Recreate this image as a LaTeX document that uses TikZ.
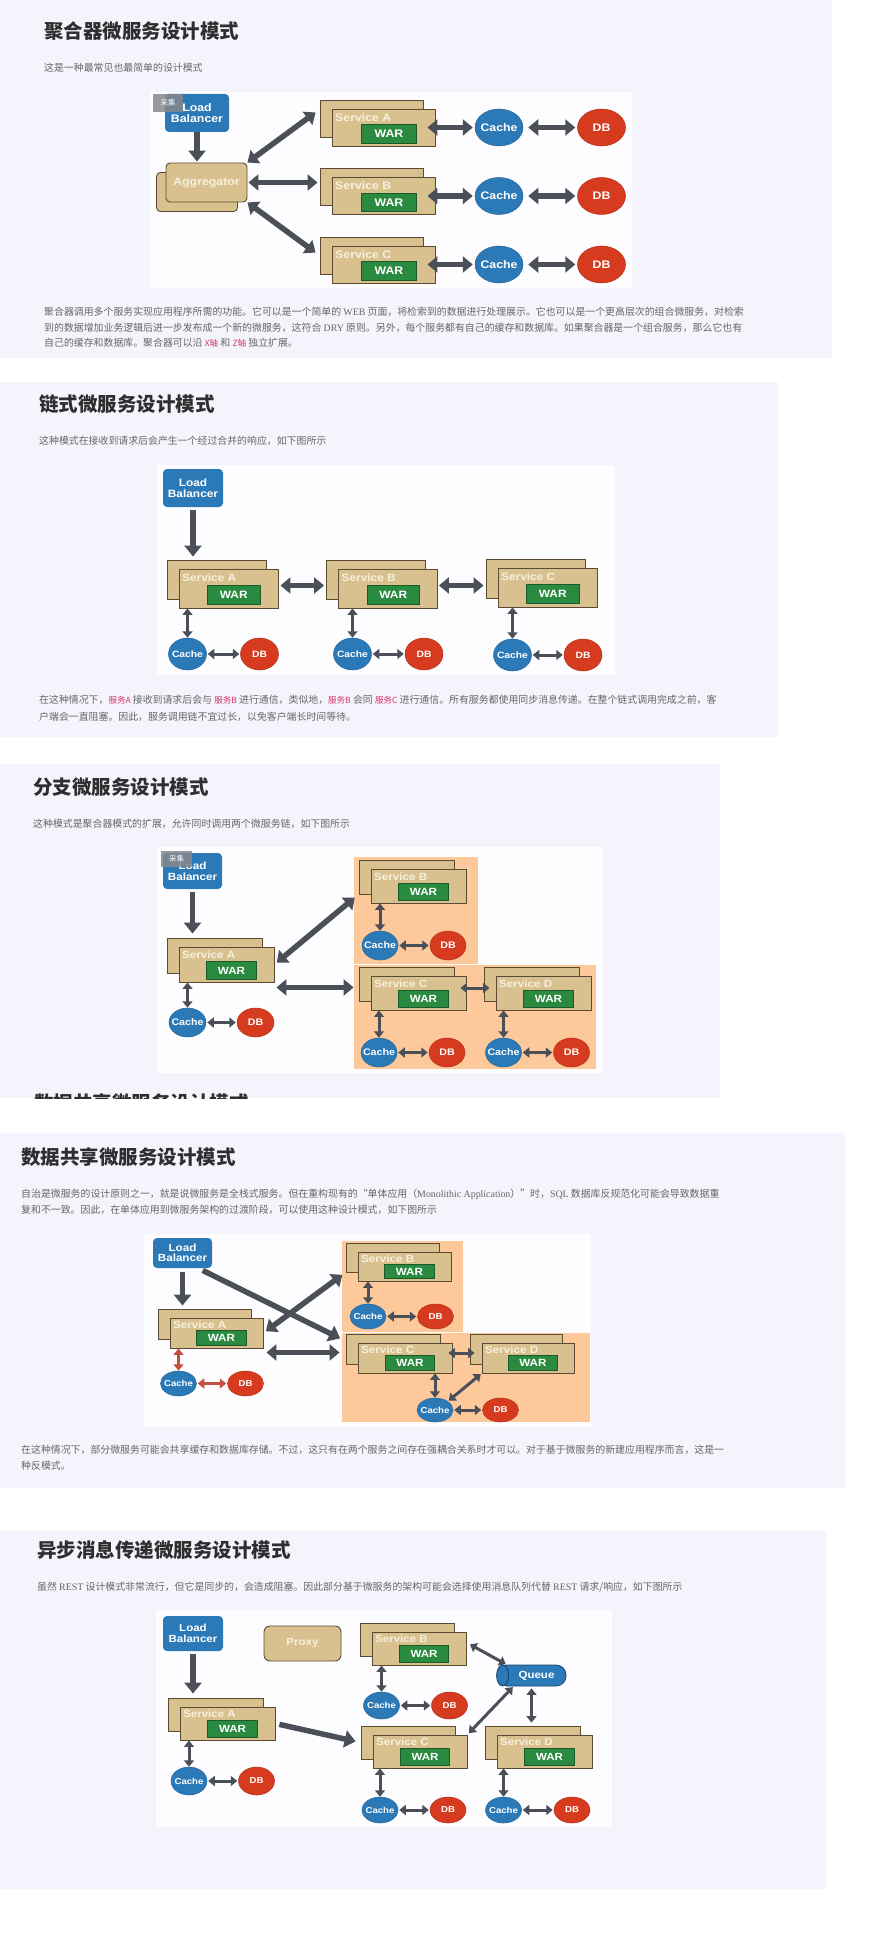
\documentclass[tikz,border=0pt]{standalone}
\usepackage{fontspec}
\usetikzlibrary{arrows.meta,shapes.geometric}

\newfontfamily\cjk{Noto Sans CJK SC}
\newfontfamily\dfont{Liberation Sans}[FakeStretch=1.12]
\newfontfamily\latw{Liberation Serif}

\definecolor{panelbg}{HTML}{F4F4FD}
\definecolor{figbg}{HTML}{FDFDFF}
\definecolor{lbblue}{HTML}{2B79B7}
\definecolor{dbred}{HTML}{D63A1F}
\definecolor{svctan}{HTML}{D8C18F}
\definecolor{svcline}{HTML}{5B4B33}
\definecolor{svctext}{HTML}{F6F0DF}
\definecolor{wargreen}{HTML}{2A8A40}
\definecolor{warline}{HTML}{1D5A2B}
\definecolor{arrgray}{HTML}{4B4F58}
\definecolor{arrred}{HTML}{C4503F}
\definecolor{zoneorange}{HTML}{FDC99B}
\definecolor{titlegray}{HTML}{2E2E2E}
\definecolor{textgray}{HTML}{666666}
\definecolor{codered}{HTML}{D6336C}
\definecolor{taggray}{HTML}{85878C}

\newcommand{\en}[1]{{\latw #1}}
\newcommand{\code}[1]{{\fontsize{8.5}{9}\selectfont\color{codered}#1}}

% service stack: #1 name, #2 x, #3 y (front box centre), #4 width, #5 height, #6 label
\newcommand{\svcstack}[6]{%
  \node[svcbox, minimum width=#4, minimum height=#5] (#1-b) at ({#2-12},{#3-9}) {};
  \node[svcbox, minimum width=#4, minimum height=#5] (#1) at (#2,#3) {};
  \node[svclabel, anchor=west] (#1-l) at ({#2-0.5*#4+3},{#3-0.28*#5}) {#6};
  \node[warbox, minimum width={0.53*#4}, minimum height={0.5*#5}] (#1-w) at ({#2+0.053*#4},{#3+0.17*#5}) {WAR};
}
% cache and db pair: #1 suffix, #2 x, #3 y, #4 gap, #5 width, #6 height
\newcommand{\store}[6]{%
  \node[cachenode, minimum width=#5, minimum height=#6] (c#1) at (#2,#3) {Cache};
  \node[dbnode, minimum width=#5, minimum height=#6] (d#1) at ({#2+#4},#3) {DB};
}

\def\bsz{11}\def\lsz{11.5}\def\ssz{11}

\tikzset{
  titletext/.style={anchor=west, inner sep=0pt, text=titlegray,
    font=\cjk\bfseries\fontsize{19.5}{22}\selectfont},
  bodytext/.style={anchor=west, inner sep=0pt, text=textgray,
    font=\cjk\fontsize{9.9}{12}\selectfont},
  lbbox/.style={fill=lbblue, rounded corners=4pt, inner sep=0pt, text=white,
    align=center, font=\dfont\bfseries\fontsize{\bsz}{\lsz}\selectfont},
  svcbox/.style={draw=svcline, line width=0.9pt, fill=svctan, inner sep=0pt},
  svclabel/.style={inner sep=0pt, text=svctext,
    font=\dfont\bfseries\fontsize{\bsz}{\lsz}\selectfont},
  warbox/.style={draw=warline, line width=0.8pt, fill=wargreen, inner sep=0pt,
    text=white, font=\dfont\bfseries\fontsize{\bsz}{\lsz}\selectfont},
  aggbox/.style={svcbox, rounded corners=4pt, minimum width=81, minimum height=39,
    text=svctext, font=\dfont\bfseries\fontsize{\bsz}{\lsz}\selectfont},
  cachenode/.style={ellipse, fill=lbblue, draw=lbblue!85!black, line width=0.5pt,
    inner xsep=-7pt, inner ysep=-2pt, text=white,
    font=\dfont\bfseries\fontsize{\ssz}{\ssz}\selectfont},
  dbnode/.style={cachenode, fill=dbred, draw=dbred!85!black},
  tagbox/.style={fill=taggray, fill opacity=0.85, text opacity=1, text=white,
    inner sep=0pt, font=\cjk\fontsize{7.5}{8}\selectfont},
  queuebox/.style={fill=lbblue, draw=lbblue!55!black, line width=0.8pt,
    rounded corners=10pt, inner sep=0pt, text=white,
    font=\dfont\bfseries\fontsize{\bsz}{\lsz}\selectfont},
  queuecap/.style={fill=lbblue, draw=lbblue!55!black, line width=0.8pt},
  fatarr/.style={draw=arrgray, line width=5.5pt,
    {Triangle[length=10pt,width=16pt]}-{Triangle[length=10pt,width=16pt]}},
  fatone/.style={draw=arrgray, line width=5.5pt, -{Triangle[length=11pt,width=17pt]}},
  thinarr/.style={draw=arrgray, line width=3pt,
    {Triangle[length=6.5pt,width=10pt]}-{Triangle[length=6.5pt,width=10pt]}},
  redarr/.style={thinarr, draw=arrred},
}

\begin{document}
\begin{tikzpicture}[x=1pt, y=-1pt]
  \useasboundingbox (0,0) rectangle (889,1934);
  \fill[white] (0,0) rectangle (889,1934);

  %% aggregator pattern
  \fill[panelbg] (0,0) rectangle (832,358);
  \node[titletext] (t1) at (44,31) {聚合器微服务设计模式};
  \node[bodytext] (s1) at (44,68) {这是一种最常见也最简单的设计模式};
  \fill[figbg] (150,92) rectangle (632,288);
  \begin{scope}
    \def\bsz{11}\def\lsz{11.5}\def\ssz{11}
    \node[lbbox, minimum width=64, minimum height=38] (lb1) at (197,113) {Load\\Balancer};
    \node[tagbox, minimum width=30, minimum height=18] (tag1) at (168,103) {采集};
    \node[aggbox] (agg-b) at (197,192) {};
    \node[aggbox] (agg) at (206.5,182.5) {Aggregator};
    \svcstack{sa1}{383.5}{127.5}{103}{37}{Service A}
    \svcstack{sb1}{383.5}{196}{103}{37}{Service B}
    \svcstack{sc1}{383.5}{264.5}{103}{37}{Service C}
    \store{a1}{499}{127.5}{102.5}{48}{37}
    \store{b1}{499}{196}{102.5}{48}{37}
    \store{c1}{499}{264.5}{102.5}{48}{37}

    \draw[fatone, shorten >=1pt] (lb1.south) -- (lb1.south |- agg.north); %% lb -> aggregator
    \draw[fatarr, shorten >=5pt] (agg.north east) -- ([yshift=9pt]sa1-b.west);
    \draw[fatarr, shorten <=1pt, shorten >=2pt] (agg.east) -- (agg.east -| sb1-b.west);
    \draw[fatarr, shorten >=5pt] (agg.south east) -- (sc1-b.west);
    \draw[fatarr, shorten <=-8pt, shorten >=2pt] (sa1.east) -- (ca1.west);
    \draw[fatarr, shorten <=-8pt, shorten >=2pt] (sb1.east) -- (cb1.west);
    \draw[fatarr, shorten <=-8pt, shorten >=2pt] (sc1.east) -- (cc1.west);
    \draw[fatarr, shorten <=5pt, shorten >=2pt] (ca1.east) -- (da1.west);
    \draw[fatarr, shorten <=5pt, shorten >=2pt] (cb1.east) -- (db1.west);
    \draw[fatarr, shorten <=5pt, shorten >=2pt] (cc1.east) -- (dc1.west);
  \end{scope}
  \node[bodytext] (p1a) at (44,312) {聚合器调用多个服务实现应用程序所需的功能。它可以是一个简单的 \en{WEB} 页面，将检索到的数据进行处理展示。它也可以是一个更高层次的组合微服务，对检索};
  \node[bodytext] (p1b) at (44,328) {到的数据增加业务逻辑后进一步发布成一个新的微服务，这符合 \en{DRY} 原则。另外，每个服务都有自己的缓存和数据库。如果聚合器是一个组合服务，那么它也有};
  \node[bodytext] (p1c) at (44,343) {自己的缓存和数据库。聚合器可以沿 \code{X轴} 和 \code{Z轴} 独立扩展。};

  %% chained pattern
  \fill[panelbg] (0,382) rectangle (778,737);
  \node[titletext] (t2) at (39,404) {链式微服务设计模式};
  \node[bodytext] (s2) at (39,441) {这种模式在接收到请求后会产生一个经过合并的响应，如下图所示};
  \fill[figbg] (157,465) rectangle (615,675);
  \begin{scope}
    \def\bsz{10.6}\def\lsz{11.5}\def\ssz{9.2}
    \node[lbbox, minimum width=60, minimum height=38] (lb2) at (193,488) {Load\\Balancer};
    \svcstack{sa2}{228.5}{588.5}{99}{39}{Service A}
    \svcstack{sb2}{388}{588.5}{99}{39}{Service B}
    \svcstack{sc2}{547.5}{587.5}{99}{39}{Service C}
    \store{a2}{187.5}{654}{72}{38}{32}
    \store{b2}{352.5}{654}{71.5}{38}{32}
    \store{c2}{512.5}{655}{70.5}{38}{32}

    \draw[fatone, shorten <=3pt, shorten >=3pt] (lb2.south) -- (lb2.south |- sa2-b.north);
    \draw[fatarr, shorten <=2pt, shorten >=2pt] ([yshift=3pt]sa2.east) -- ([yshift=3pt]sa2.east -| sb2-b.west);
    \draw[fatarr, shorten <=1pt, shorten >=2pt] ([yshift=3pt]sb2.east) -- ([yshift=3pt]sb2.east -| sc2-b.west);
    \draw[thinarr] (ca2.north) -- (ca2.north |- sa2.south);
    \draw[thinarr] (cb2.north) -- (cb2.north |- sb2.south);
    \draw[thinarr] (cc2.north) -- (cc2.north |- sc2.south);
    \draw[thinarr, shorten <=1pt, shorten >=1pt] (ca2.east) -- (da2.west);
    \draw[thinarr, shorten <=1pt, shorten >=1pt] (cb2.east) -- (db2.west);
    \draw[thinarr, shorten <=1pt, shorten >=1pt] (cc2.east) -- (dc2.west);
  \end{scope}
  \node[bodytext] (p2a) at (39,700) {在这种情况下，\code{服务A} 接收到请求后会与 \code{服务B} 进行通信，类似地，\code{服务B} 会同 \code{服务C} 进行通信。所有服务都使用同步消息传递。在整个链式调用完成之前，客};
  \node[bodytext] (p2b) at (39,717) {户端会一直阻塞。因此，服务调用链不宜过长，以免客户端长时间等待。};

  %% branch pattern
  \fill[panelbg] (0,764) rectangle (720,1098);
  \node[titletext] (t3) at (33,787) {分支微服务设计模式};
  \node[bodytext] (s3) at (33,824) {这种模式是聚合器模式的扩展，允许同时调用两个微服务链，如下图所示};
  \fill[figbg] (157,847) rectangle (603,1073);
  \fill[zoneorange] (354,857) rectangle (478,963.5);
  \fill[zoneorange] (354,964.5) rectangle (596,1069);
  \begin{scope}
    \def\bsz{10.4}\def\lsz{11}\def\ssz{9.5}
    \node[lbbox, minimum width=59, minimum height=36] (lb3) at (192.5,871) {Load\\Balancer};
    \node[tagbox, minimum width=31, minimum height=16] (tag3) at (176.5,859) {采集};
    \svcstack{sa3}{226.5}{964.5}{95}{35}{Service A}
    \svcstack{sb3}{418.5}{886}{95}{34}{Service B}
    \svcstack{sc3}{418.5}{993}{95}{34}{Service C}
    \svcstack{sd3}{543.5}{993}{95}{34}{Service D}
    \store{a3}{187.5}{1022.5}{68}{37}{29}
    \store{b3}{380}{945.5}{68}{36}{29}
    \store{c3}{379}{1052.5}{68}{36}{29}
    \store{d3}{503.5}{1052.5}{68}{36}{29}

    \draw[fatone, shorten <=3pt, shorten >=4pt] (lb3.south) -- (lb3.south |- sa3-b.north);
    \draw[fatarr, shorten <=3pt, shorten >=5pt] (sa3.east) -- (sb3-b.south west); %% A <-> B
    \draw[fatarr, shorten <=2pt, shorten >=5pt] ([yshift=-5pt]sa3.south east) -- ([yshift=-5pt]sa3.south east -| sc3-b.west); %% A <-> C
    \draw[thinarr, shorten <=-6pt, shorten >=-6pt] ([yshift=5pt]sc3.east) -- ([yshift=5pt]sc3.east -| sd3-b.west);
    \draw[thinarr] (ca3.north) -- (ca3.north |- sa3.south);
    \draw[thinarr] (cb3.north) -- (cb3.north |- sb3.south);
    \draw[thinarr] (cc3.north) -- (cc3.north |- sc3.south);
    \draw[thinarr] (cd3.north) -- (cd3.north |- sd3.south);
    \draw[thinarr, shorten <=1pt, shorten >=1pt] (ca3.east) -- (da3.west);
    \draw[thinarr, shorten <=1pt, shorten >=1pt] (cb3.east) -- (db3.west);
    \draw[thinarr, shorten <=1pt, shorten >=1pt] (cc3.east) -- (dc3.west);
    \draw[thinarr, shorten <=1pt, shorten >=1pt] (cd3.east) -- (dd3.west);
  \end{scope}
  \begin{scope}
    \clip (0,1080) rectangle (720,1098);
    \node[titletext] (t4cut) at (34,1103) {数据共享微服务设计模式};
  \end{scope}

  %% shared data pattern
  \fill[panelbg] (0,1133) rectangle (845,1488);
  \node[titletext] (t4) at (21,1157) {数据共享微服务设计模式};
  \node[bodytext] (p4a) at (21,1194) {自治是微服务的设计原则之一，就是说微服务是全栈式服务。但在重构现有的“单体应用（\en{Monolithic Application}）”时，\en{SQL} 数据库反规范化可能会导致数据重};
  \node[bodytext] (p4b) at (21,1210) {复和不一致。因此，在单体应用到微服务架构的过渡阶段，可以使用这种设计模式，如下图所示};
  \fill[figbg] (144,1234) rectangle (591,1427);
  \fill[zoneorange] (342,1241) rectangle (463,1331.5);
  \fill[zoneorange] (342,1332.5) rectangle (590,1422);
  \begin{scope}
    \def\bsz{10.4}\def\lsz{10.5}\def\ssz{8.6}
    \node[lbbox, minimum width=59, minimum height=30] (lb4) at (182.5,1253) {Load\\Balancer};
    \svcstack{sa4}{216.5}{1333}{93}{30}{Service A}
    \svcstack{sb4}{404.5}{1266.5}{93}{29}{Service B}
    \svcstack{sc4}{405}{1358}{94}{30}{Service C}
    \svcstack{sd4}{528}{1358}{92}{30}{Service D}
    \store{a4}{178.5}{1383.5}{67}{36}{25}
    \store{b4}{368}{1316.5}{67.5}{36}{25}
    \store{s4}{435}{1410}{65.5}{36}{24}

    \draw[fatone, shorten <=4pt, shorten >=3pt] (lb4.south) -- (lb4.south |- sa4-b.north);
    \draw[fatone, shorten <=5pt, shorten >=6pt] ([xshift=-14pt]lb4.south east) -- ([yshift=8pt]sc4-b.west); %% lb -> C
    \draw[fatarr, shorten <=3pt, shorten >=4pt] (sa4.east) -- (sb4-b.south west);
    \draw[fatarr, shorten <=3pt, shorten >=6pt] ([yshift=-4pt]sa4.south east) -- ([yshift=-4pt]sa4.south east -| sc4-b.west);
    \draw[thinarr, shorten <=-4pt, shorten >=-5pt] ([yshift=5pt]sc4.east) -- ([yshift=5pt]sc4.east -| sd4-b.west);
    \draw[redarr] (ca4.north) -- (ca4.north |- sa4.south);
    \draw[redarr, shorten <=1pt, shorten >=1pt] (ca4.east) -- (da4.west);
    \draw[thinarr] (cb4.north) -- (cb4.north |- sb4.south);
    \draw[thinarr, shorten <=1pt, shorten >=1pt] (cb4.east) -- (db4.west);
    \draw[thinarr] (cs4.north) -- (cs4.north |- sc4.south);
    \draw[thinarr, shorten <=1pt, shorten >=1pt] (sd4.south west) -- (cs4.north east);
    \draw[thinarr, shorten <=1pt, shorten >=1pt] (cs4.east) -- (ds4.west);
  \end{scope}
  \node[bodytext] (p4c) at (21,1450) {在这种情况下，部分微服务可能会共享缓存和数据库存储。不过，这只有在两个服务之间存在强耦合关系时才可以。对于基于微服务的新建应用程序而言，这是一};
  \node[bodytext] (p4d) at (21,1466) {种反模式。};

  %% async messaging pattern
  \fill[panelbg] (0,1531) rectangle (826,1889);
  \node[titletext] (t5) at (37,1550) {异步消息传递微服务设计模式};
  \node[bodytext] (s5) at (37,1587) {虽然 \en{REST} 设计模式非常流行，但它是同步的，会造成阻塞。因此部分基于微服务的架构可能会选择使用消息队列代替 \en{REST} 请求/响应，如下图所示};
  \fill[figbg] (156,1610) rectangle (612,1827);
  \begin{scope}
    \def\bsz{10.3}\def\lsz{11}\def\ssz{8.6}
    \node[lbbox, minimum width=60, minimum height=35] (lb5) at (193,1633.5) {Load\\Balancer};
    \node[aggbox, minimum width=77, minimum height=35, rounded corners=6pt] (px5) at (302.5,1643.5) {Proxy};
    \svcstack{sa5}{227.5}{1723.5}{95}{33}{Service A}
    \svcstack{sb5}{419}{1648.5}{94}{33}{Service B}
    \svcstack{sc5}{420}{1751.5}{94}{33}{Service C}
    \svcstack{sd5}{544.5}{1751.5}{95}{33}{Service D}
    \node[queuebox, minimum width=69, minimum height=21] (q5) at (531.5,1675.5) {\hspace*{10pt}Queue};
    \draw[queuecap] ([xshift=6pt]q5.west) ellipse [x radius=6pt, y radius=10.5pt];
    \store{a5}{189}{1781}{67.5}{36}{28}
    \store{b5}{381.5}{1705.5}{68}{36}{27}
    \store{c5}{380}{1810}{68}{36}{26}
    \store{d5}{503.5}{1810}{68.5}{36}{26}

    \draw[fatone, shorten <=3pt, shorten >=4pt] (lb5.south) -- (lb5.south |- sa5-b.north);
    \draw[fatone, shorten <=4pt, shorten >=5pt] (sa5.east) -- (sc5-b.west); %% A -> C
    \draw[thinarr, shorten <=4pt, shorten >=1pt] ([yshift=6pt]sb5.east) -- ([xshift=10pt]q5.north west);
    \draw[thinarr, shorten <=1pt, shorten >=2pt] ([xshift=-18pt]q5.south) -- (sc5.north east);
    \draw[thinarr, shorten <=2pt, shorten >=3pt] (q5.south) -- (q5.south |- sd5-b.north);
    \draw[thinarr] (ca5.north) -- (ca5.north |- sa5.south);
    \draw[thinarr] (cb5.north) -- (cb5.north |- sb5.south);
    \draw[thinarr] (cc5.north) -- (cc5.north |- sc5.south);
    \draw[thinarr] (cd5.north) -- (cd5.north |- sd5.south);
    \draw[thinarr, shorten <=1pt, shorten >=1pt] (ca5.east) -- (da5.west);
    \draw[thinarr, shorten <=1pt, shorten >=1pt] (cb5.east) -- (db5.west);
    \draw[thinarr, shorten <=1pt, shorten >=1pt] (cc5.east) -- (dc5.west);
    \draw[thinarr, shorten <=1pt, shorten >=1pt] (cd5.east) -- (dd5.west);
  \end{scope}
\end{tikzpicture}
\end{document}
